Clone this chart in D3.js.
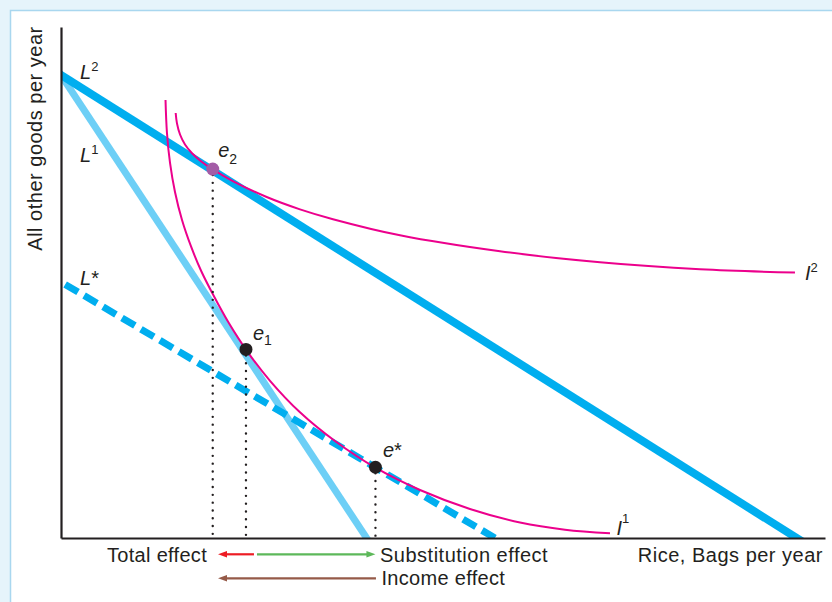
<!DOCTYPE html>
<html><head><meta charset="utf-8">
<script src="https://cdn.jsdelivr.net/npm/d3@7"></script>
<style>
html,body{margin:0;padding:0;background:#e6f4fb;overflow:hidden;}
svg{display:block;}
text{font-family:"Liberation Sans",Arial,Helvetica,sans-serif;fill:#231f20;}
</style></head><body>
<svg id="chart" width="832" height="602"></svg>
<script>
// ---------- data (rice bags on x, other goods on y) ----------
const lineNames      = ["L2", "L1", "Lstar"];
const goodsIntercept = [90.6, 90.6, 50.1];
const riceIntercept  = [96.3, 40.0, 56.8];

const i1Rice  = [13.68, 13.87, 14.27, 14.92, 15.84, 17.02, 18.32, 19.90, 21.99, 24.21, 27.36, 31.28, 35.86, 41.16, 46.99, 53.53, 60.08, 65.97, 71.86];
const i1Goods = [85.71, 79.26, 73.39, 67.71, 62.23, 57.05, 52.35, 47.65, 42.01, 36.87, 30.76, 24.60, 18.98, 13.76, 9.39, 5.68, 3.03, 1.62, 0.92];

const i2Rice  = [15.01, 15.18, 15.58, 16.23, 17.15, 18.32, 19.86, 22.55, 26.92, 31.28, 35.60, 44.37, 57.46, 70.55, 83.64, 96.07];
const i2Goods = [83.17, 81.14, 78.96, 77.01, 75.29, 73.74, 72.13, 69.81, 66.73, 64.32, 62.39, 59.24, 56.11, 53.95, 52.58, 51.94];

const eqNames = ["e2", "e1", "estar"];
const eqRice  = [19.86, 24.21, 41.16];
const eqGoods = [72.2, 36.9, 13.85];

const effectNames = ["Total effect", "Substitution effect", "Income effect"];
const effectFrom  = ["e1", "e1", "estar"];
const effectTo    = ["e2", "estar", "e2"];

const xAxisTitle = "Rice, Bags per year";
const yAxisTitle = "All other goods per year";

// ---------- setup ----------
const svg = d3.select("#chart");
const x = d3.scaleLinear().domain([0, 100]).range([61, 825]);
const y = d3.scaleLinear().domain([0, 100]).range([538, 27]);

// panel
svg.append("rect").attr("x", 10.5).attr("y", 10.5).attr("width", 900).attr("height", 700)
  .attr("fill", "#ffffff").attr("stroke", "#a9d7ef").attr("stroke-width", 1.5);

svg.append("defs").append("clipPath").attr("id", "plotclip")
  .append("rect").attr("x", x(0)).attr("y", 0).attr("width", x(100) - x(0)).attr("height", y(0));

const plot = svg.append("g").attr("clip-path", "url(#plotclip)");

// budget lines
const lineStyle = {
  L2:    {color: "#00aeef", width: 8,   dash: null},
  L1:    {color: "#6dcff6", width: 7,   dash: null},
  Lstar: {color: "#00aeef", width: 7,   dash: "15,7"}
};
const drawOrder = ["L1", "Lstar", "L2"];
drawOrder.forEach(nm => {
  const i = lineNames.indexOf(nm);
  const gi = goodsIntercept[i], ri = riceIntercept[i];
  const pts = [-0.05, 1.05].map(t => [x(ri * t), y(gi * (1 - t))]);
  const st = lineStyle[nm];
  plot.append("path").attr("d", d3.line()(pts))
    .attr("fill", "none").attr("stroke", st.color).attr("stroke-width", st.width)
    .attr("stroke-dasharray", st.dash ? st.dash : null)
    .attr("stroke-dashoffset", st.dash ? 14 : null);
});

// indifference curves
const curve = d3.line().x(d => x(d[0])).y(d => y(d[1])).curve(d3.curveCatmullRom.alpha(0.5));
const I1 = i1Rice.map((r, k) => [r, i1Goods[k]]);
const I2 = i2Rice.map((r, k) => [r, i2Goods[k]]);
[I1, I2].forEach(c => {
  svg.append("path").attr("d", curve(c)).attr("fill", "none")
    .attr("stroke", "#ec008c").attr("stroke-width", 2);
});

// axes
const yAxis = svg.append("g").attr("transform", `translate(${x(0)},0)`)
  .call(d3.axisLeft(y).tickValues([]).tickSizeOuter(0));
const xAxis = svg.append("g").attr("transform", `translate(0,${y(0)})`)
  .call(d3.axisBottom(x).tickValues([]).tickSizeOuter(0));
[yAxis, xAxis].forEach(a => a.select(".domain").attr("stroke", "#231f20").attr("stroke-width", 2.2));

// dotted drop lines
eqNames.forEach((nm, i) => {
  svg.append("line").attr("x1", x(eqRice[i])).attr("x2", x(eqRice[i]))
    .attr("y1", y(eqGoods[i]) + 6).attr("y2", y(0) - 2)
    .attr("stroke", "#231f20").attr("stroke-width", 2.4)
    .attr("stroke-linecap", "round").attr("stroke-dasharray", "0,7.8");
});

// equilibrium dots
const dotColor = {e2: "#a35ca6", e1: "#231f20", estar: "#231f20"};
eqNames.forEach((nm, i) => {
  svg.append("circle").attr("cx", x(eqRice[i])).attr("cy", y(eqGoods[i])).attr("r", 6.5)
    .attr("fill", dotColor[nm]);
});

// ---------- labels ----------
function label(px, py, main, extra, extraSize, extraDy) {
  const t = svg.append("text").attr("x", px).attr("y", py)
    .attr("font-size", 20).attr("font-style", "italic");
  t.append("tspan").text(main);
  if (extra) {
    t.append("tspan").text(extra).attr("font-size", extraSize).attr("dy", extraDy)
      .attr("font-style", "normal");
  }
  return t;
}
const eq = nm => { const i = eqNames.indexOf(nm); return [x(eqRice[i]), y(eqGoods[i])]; };
const li = nm => y(goodsIntercept[lineNames.indexOf(nm)]);

label(x(0) + 19, li("L2") + 3.5, "L", "2", 13, -8);
label(x(0) + 19, 161.5, "L", "1", 13, -8);
label(x(0) + 19, li("Lstar") + 3, "L", "*", 20, 0);
label(eq("e2")[0] + 5.5, eq("e2")[1] - 12, "e", "2", 14, 6.5);
label(eq("e1")[0] + 7, eq("e1")[1] - 9.5, "e", "1", 14, 5);
label(eq("estar")[0] + 7.5, eq("estar")[1] - 10.3, "e", "*", 20, 0);
const i1End = I1[I1.length - 1], i2End = I2[I2.length - 1];
label(x(i1End[0]) + 6.5, y(i1End[1]) + 2, "I", "1", 13, -12);
label(x(i2End[0]) + 10, y(i2End[1]) + 7.5, "I", "2", 13, -8.5);

// axis titles
svg.append("text").attr("x", 823).attr("y", 562).attr("text-anchor", "end")
  .attr("font-size", 20).attr("letter-spacing", 0.5).text(xAxisTitle);
svg.append("text").attr("transform", "translate(42,138.5) rotate(-90)").attr("text-anchor", "middle")
  .attr("font-size", 20).attr("letter-spacing", 0.5).text(yAxisTitle);

// ---------- effect arrows ----------
const effectColor = {"Total effect": "#ed1c24", "Substitution effect": "#5db85a", "Income effect": "#955a48"};
const effectRowY = [554.3, 554.3, 578.3];
const startPad = {"Total effect": 8, "Substitution effect": 11, "Income effect": 0.5};
const endPad   = {"Total effect": 5.3, "Substitution effect": 0, "Income effect": 5.3};
effectNames.forEach((nm, i) => {
  const x0 = eq(effectFrom[i])[0] + startPad[nm];
  const x1 = eq(effectTo[i])[0] + endPad[nm];
  const yy = effectRowY[i];
  const dir = Math.sign(x1 - x0);
  const head = 9, hw = 3.2;
  svg.append("line").attr("x1", x0).attr("x2", x1 - dir * head * 0.6).attr("y1", yy).attr("y2", yy)
    .attr("stroke", effectColor[nm]).attr("stroke-width", 2.2);
  svg.append("path")
    .attr("d", `M${x1},${yy} L${x1 - dir * head},${yy - hw} L${x1 - dir * head},${yy + hw} Z`)
    .attr("fill", effectColor[nm]);
});
svg.append("text").attr("x", 207).attr("y", 562).attr("text-anchor", "end")
  .attr("font-size", 20).attr("letter-spacing", 0.3).text(effectNames[0]);
svg.append("text").attr("x", 380).attr("y", 562)
  .attr("font-size", 20).attr("letter-spacing", 0.5).text(effectNames[1]);
svg.append("text").attr("x", 381.5).attr("y", 585)
  .attr("font-size", 20).attr("letter-spacing", 0.3).text(effectNames[2]);
</script>
</body></html>
